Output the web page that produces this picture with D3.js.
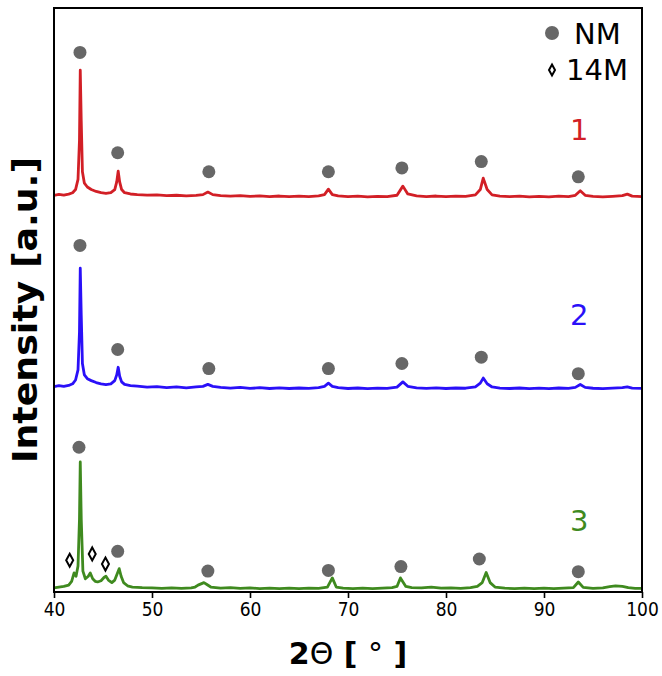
<!DOCTYPE html>
<html>
<head>
<meta charset="utf-8">
<script src="https://cdn.jsdelivr.net/npm/d3@7"></script>
<style>
  html, body { margin: 0; padding: 0; background: #fff; }
  svg { display: block; font-family: "DejaVu Sans", sans-serif; }
</style>
</head>
<body>
<div id="chart"></div>
<script>
// ============= Data =============
// 2theta range and ticks
const xDomain = [40, 100];
const xTicks = [40, 50, 60, 70, 80, 90, 100];

// Vertical offsets of each pattern (intensity units)
const offsets = {red: 311, blue: 160, green: 2.4};

// Pattern 1 (red) - [2theta, intensity above its baseline]
const pattern1 = [
  [40,1.5],[40.5,2.2],[41,1.6],[41.5,2.4],[41.9,3.5],[42.2,6],[42.45,14],[42.6,45],[42.68,100],[42.78,60],
  [42.9,20],[43.1,11],[43.4,8],[43.8,6],[44.3,4.5],[44.8,3.5],[45.3,3],[45.8,3.6],[46.2,6],[46.4,12],
  [46.55,20.5],[46.7,12],[46.9,6],[47.2,3.5],[47.8,2.5],[48.5,2],[49.5,1.6],[50.5,1.8],[51.5,1.2],[52.5,1.5],
  [53.5,1],[54.5,1.4],[55.2,2],[55.7,4],[56.2,2],[57,1.2],[58,0.8],[59,1.2],[60,0.6],[61,1],
  [62,0.5],[63,0.9],[64,0.4],[65,0.8],[66,0.5],[67,1],[67.6,2],[68,6.3],[68.4,2],[69,1],
  [70,0.4],[71,0.8],[72,0.3],[73,0.7],[74,0.5],[75,1.5],[75.6,8.7],[76.1,2.5],[77,1],[78,0.5],
  [79,0.9],[80,0.4],[81,0.8],[82,0.6],[83,1.8],[83.5,6],[83.8,15],[84.2,6],[84.7,1.8],[85.5,0.8],
  [86.5,0.4],[87.5,0.8],[88.5,0.3],[89.5,0.7],[90.5,0.3],[91.5,0.8],[92.5,0.5],[93.2,1.5],[93.7,5],[94.2,1.5],
  [95,0.6],[96,0.2],[97,0.7],[98,1.2],[98.5,2.4],[99,0.8],[100,0.5]
];

// Pattern 2 (blue)
const pattern2 = [
  [40,1.8],[40.5,2.6],[41,1.9],[41.5,2.7],[41.9,4],[42.2,7],[42.45,15],[42.6,45],[42.68,95],[42.78,58],
  [42.9,20],[43.1,11],[43.4,8],[43.8,6.5],[44.3,5],[44.8,4],[45.3,3.4],[45.8,4],[46.2,6.5],[46.4,11],
  [46.55,17],[46.7,10],[46.9,5.5],[47.2,3.5],[47.8,2.6],[48.5,2.2],[49.5,1.4],[50.5,1.8],[51.5,1],[52.5,1.5],
  [53.5,0.8],[54.5,1.5],[55.2,2],[55.7,3.5],[56.2,2],[57,1.2],[58,0.6],[59,1.1],[60,0.4],[61,0.9],
  [62,0.3],[63,0.8],[64,0.3],[65,0.7],[66,0.4],[67,1],[67.6,2],[68,4.5],[68.4,2],[69,0.9],
  [70,0.3],[71,0.7],[72,0.2],[73,0.6],[74,0.4],[75,1.4],[75.6,5.5],[76.1,2],[77,0.8],[78,0.4],
  [79,0.8],[80,0.3],[81,0.7],[82,0.5],[83,1.6],[83.5,4.5],[83.8,8.5],[84.2,4],[84.7,1.5],[85.5,0.6],
  [86.5,0.3],[87.5,0.7],[88.5,0.2],[89.5,0.6],[90.5,0.2],[91.5,0.7],[92.5,0.4],[93.2,1.2],[93.7,3.5],[94.2,1.2],
  [95,0.5],[96,0.2],[97,0.6],[98,1],[98.5,1.6],[99,0.6],[100,0.4]
];

// Pattern 3 (green)
const pattern3 = [
  [40,0.8],[40.5,1.5],[41,2],[41.5,3],[41.8,6],[42.05,12.6],[42.25,10],[42.45,18],[42.6,55],[42.68,100],
  [42.78,55],[42.95,14],[43.2,8],[43.5,10],[43.7,12.6],[43.95,8],[44.2,6],[44.45,5.5],[44.8,6.5],[45.1,9],
  [45.3,10],[45.55,7],[45.9,5],[46.2,7],[46.45,12],[46.65,16],[46.85,10],[47.1,5],[47.5,2.5],[48,1.5],
  [49,1],[50,0.8],[51,0.5],[52,0.9],[53,0.4],[54,0.9],[54.4,1.5],[54.7,3],[55,4],[55.3,5],
  [55.6,3.5],[56,1.5],[57,0.6],[58,1],[59,0.4],[60,0.8],[61,0.3],[62,0.7],[63,0.2],[64,0.6],
  [65,0.3],[66,0.7],[67,0.4],[67.9,1.5],[68.4,8.7],[68.8,1.5],[69.5,0.6],[70.5,0.3],[71.5,0.7],[72.5,0.3],
  [73.5,0.6],[74.5,1],[75,2],[75.35,8.7],[75.9,2],[76.5,1],[77.5,0.8],[78.5,1.5],[79.5,0.6],[80.5,0.9],
  [81.5,0.5],[82.5,1],[83.2,2],[83.7,5],[84.1,13],[84.5,5],[85,1.5],[86,0.6],[87,0.3],[88,0.7],
  [89,0.2],[90,0.6],[91,0.3],[92,0.6],[93,1],[93.5,5.5],[94,1.2],[95,0.5],[96,0.8],[96.7,1.8],
  [97.3,2.4],[98,2],[98.6,1],[99.3,0.5],[100,0.4]
];

// NM peak markers [2theta, absolute intensity]
const nmMarks1 = [[42.65,425],[46.5,346],[55.8,331],[68,331],[75.5,334],[83.6,339],[93.5,327]];
const nmMarks2 = [[42.65,273],[46.5,191],[55.8,176],[68,176],[75.5,180],[83.6,185],[93.5,172]];
const nmMarks3 = [[42.55,114],[46.5,32],[55.7,16.5],[68,17],[75.4,20],[83.4,26],[93.5,16]];

// 14M peak markers
const m14Marks = [[41.6,25],[43.9,30],[45.25,22]];

// Series labels
const seriesLabels = ['1', '2', '3'];
const seriesColors = ['#d21f26', '#2a10f8', '#3f8a1f'];


// ============= Setup =============
const width = 662,
      height = 676,
      margin = {top: 8, right: 20, bottom: 84, left: 54};

const svg = d3.select('#chart')
  .append('svg')
    .attr('width', width)
    .attr('height', height);

const x = d3.scaleLinear()
  .domain(xDomain)
  .range([margin.left, width - margin.right]);

const y = d3.scaleLinear()
  .domain([0, 460])
  .range([height - margin.bottom, margin.top]);


// ============= Patterns =============
const line = d3.line()
  .x(d => x(d[0]))
  .y(d => y(d[1]));

const patterns = [
  {data: pattern1, offset: offsets.red},
  {data: pattern2, offset: offsets.blue},
  {data: pattern3, offset: offsets.green}
];

svg.append('g')
  .selectAll('path')
  .data(patterns)
  .enter()
  .append('path')
    .attr('d', d => line(d.data.map(p => [p[0], p[1] + d.offset])))
    .attr('fill', 'none')
    .attr('stroke', (d, i) => seriesColors[i])
    .attr('stroke-width', 2.8)
    .attr('stroke-linejoin', 'round');


// ============= Markers =============
const allNm = nmMarks1.concat(nmMarks2, nmMarks3);

svg.append('g')
  .selectAll('circle')
  .data(allNm)
  .enter()
  .append('circle')
    .attr('cx', d => x(d[0]))
    .attr('cy', d => y(d[1]))
    .attr('r', 6.5)
    .attr('fill', '#676767');

// diamond path, centered on 0,0
const diamond = (w, h) => 'M0,' + (-h/2) + 'L' + (w/2) + ',0L0,' + (h/2) + 'L' + (-w/2) + ',0Z';

svg.append('g')
  .selectAll('path')
  .data(m14Marks)
  .enter()
  .append('path')
    .attr('transform', d => 'translate(' + x(d[0]) + ',' + y(d[1]) + ')')
    .attr('d', diamond(7, 13))
    .attr('fill', '#fff')
    .attr('stroke', '#000')
    .attr('stroke-width', 2);


// ============= Series labels =============
const labelPos = [offsets.red + 45, offsets.blue + 50, offsets.green + 46];

svg.append('g')
  .selectAll('text')
  .data(seriesLabels)
  .enter()
  .append('text')
    .attr('x', x(93.6))
    .attr('y', (d, i) => y(labelPos[i]))
    .attr('text-anchor', 'middle')
    .style('font-size', '29px')
    .style('fill', (d, i) => seriesColors[i])
    .text(d => d);


// ============= Axes =============
svg.append('rect')
  .attr('x', margin.left)
  .attr('y', margin.top)
  .attr('width', width - margin.left - margin.right)
  .attr('height', height - margin.top - margin.bottom)
  .attr('fill', 'none')
  .attr('stroke', '#000')
  .attr('stroke-width', 2);

const xAxis = svg.append('g')
  .attr('transform', 'translate(0,' + (height - margin.bottom) + ')')
  .call(d3.axisBottom(x).tickValues(xTicks).tickSize(6).tickPadding(5).tickFormat(d3.format('d')));

xAxis.select('.domain').remove();
xAxis.selectAll('line').attr('stroke-width', 1.6);
xAxis.selectAll('text')
  .style('font-size', '19px')
  .style('font-family', '"DejaVu Sans Condensed", "DejaVu Sans", sans-serif')
  .attr('fill', '#000');

// x title
const xTitle = svg.append('text')
  .attr('x', 348)
  .attr('y', 664)
  .attr('text-anchor', 'middle')
  .style('font-size', '30px')
  .style('font-weight', 'bold');

xTitle.append('tspan').text('2');
xTitle.append('tspan').style('font-weight', 'normal').text('\u0398');
xTitle.append('tspan').text(' [ ');
xTitle.append('tspan').style('font-weight', 'normal').text('\u00b0');
xTitle.append('tspan').text(' ]');

// y title
svg.append('text')
  .attr('transform', 'translate(37,310) rotate(-90)')
  .attr('text-anchor', 'middle')
  .attr('textLength', 306)
  .attr('lengthAdjust', 'spacingAndGlyphs')
  .style('font-size', '33px')
  .style('font-weight', 'bold')
  .text('Intensity [a.u.]');


// ============= Legend =============
const legend = svg.append('g');

legend.append('circle')
  .attr('cx', 552)
  .attr('cy', 33)
  .attr('r', 7)
  .attr('fill', '#676767');

legend.append('text')
  .attr('x', 574)
  .attr('y', 44)
  .style('font-size', '29px')
  .text('NM');

legend.append('path')
  .attr('transform', 'translate(552,70)')
  .attr('d', diamond(6, 11))
  .attr('fill', '#fff')
  .attr('stroke', '#000')
  .attr('stroke-width', 2);

legend.append('text')
  .attr('x', 566)
  .attr('y', 80)
  .style('font-size', '29px')
  .text('14M');
</script>
</body>
</html>
